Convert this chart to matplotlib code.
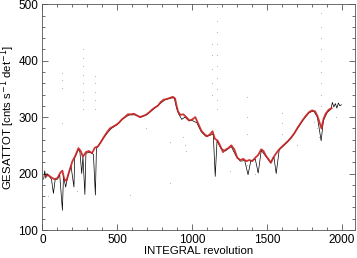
import numpy as np
import matplotlib
matplotlib.use("Agg")
from matplotlib import pyplot as plt
from matplotlib.ticker import MultipleLocator

plt.rcParams['font.family'] = ['Liberation Sans', 'DejaVu Sans']

# running mean (red)
rev_mean = [20, 40, 60, 80, 100, 120, 133, 145, 160, 180, 200, 220, 240, 255, 270, 290, 310, 330,
            350, 370, 390, 410, 430, 450, 470, 490, 510, 530, 550, 570, 590, 610, 630, 650, 670,
            690, 710, 730, 750, 770, 790, 810, 830, 850, 870, 885, 895, 905, 920, 940, 960, 980,
            1000, 1020, 1040, 1060, 1080, 1100, 1120, 1135, 1150, 1170, 1190, 1205, 1220, 1240,
            1260, 1280, 1300, 1320, 1340, 1360, 1380, 1400, 1420, 1440, 1460, 1475, 1490, 1510,
            1525, 1540, 1560, 1580, 1600, 1620, 1640, 1660, 1680, 1700, 1720, 1740, 1760, 1780,
            1800, 1820, 1835, 1850, 1862, 1875, 1890, 1910, 1930]
gesat_mean = [196, 197, 193, 190, 192, 202, 205, 190, 187, 205, 222, 232, 245, 240, 230, 238, 240, 236,
              246, 248, 256, 265, 273, 280, 283, 286, 290, 296, 300, 305, 305, 306, 303, 300, 302,
              304, 308, 313, 317, 320, 327, 331, 332, 334, 336, 333, 320, 310, 304, 305, 300, 294,
              296, 300, 288, 276, 270, 266, 270, 275, 262, 258, 247, 238, 242, 245,
              250, 243, 228, 224, 226, 222, 224, 222, 228, 233, 243, 240, 232, 225,
              219, 228, 236, 243, 248, 253, 258, 264, 271, 280, 288, 296, 303, 309,
              312, 310, 302, 290, 280, 296, 306, 313, 316]

# raw rates (black)
rev_raw = [8, 15, 22, 30, 45, 60, 73, 85, 100, 115, 133, 140, 155, 165, 190, 210, 215, 240, 250,
           262, 270, 283, 290, 320, 340, 353, 360, 380, 400, 430, 460, 500, 540, 580, 620, 660,
           700, 740, 780, 820, 860, 880, 895, 910, 930, 950, 975, 1000, 1030, 1060, 1090, 1120,
           1140, 1153, 1165, 1190, 1220, 1260, 1290, 1320, 1350, 1372, 1390, 1420, 1440, 1460,
           1490, 1520, 1545, 1560, 1580, 1620, 1660, 1700, 1740, 1780, 1810, 1835, 1860, 1875,
           1900, 1925, 1935, 1945, 1955, 1965, 1975, 1985, 1995]
gesat_raw = [190, 205, 192, 200, 195, 190, 165, 190, 190, 198, 135, 195, 176, 192, 214, 176, 228, 243, 238,
             200, 230, 163, 236, 238, 234, 162, 244, 252, 260, 271, 280, 287, 298, 304, 304, 300,
             305, 314, 323, 331, 334, 334, 316, 305, 296, 300, 294, 294, 290, 274, 266, 268,
             270, 195, 258, 245, 240, 248, 232, 222, 223, 198, 222, 226, 201, 241,
             231, 220, 229, 200, 242, 252, 263, 279, 295, 308, 311, 300, 258, 294,
             308, 314, 326, 318, 324, 316, 325, 320, 322]

# outlier points (grey)
rev_dots = [127, 127, 127, 127, 273, 273, 273, 273, 273, 273, 273, 273, 353, 353, 353, 353, 353,
            1133, 1133, 1133, 1133, 1133, 1165, 1165, 1165, 1165, 1165, 1165, 1165, 1165, 1165,
            1165, 1366, 1366, 1366, 1366, 1600, 1600, 1600, 1860, 1860, 1860, 1860, 1860, 1860,
            1860, 1860, 1860, 853, 853, 587, 935, 950, 960, 1430, 1420, 1810, 1830, 1845, 1960, 40,
            230, 690, 1250, 1700]
gesat_dots = [378, 365, 352, 290, 420, 405, 390, 375, 360, 345, 330, 315, 372, 360, 345, 330, 315,
              430, 410, 385, 360, 340, 495, 470, 450, 430, 410, 390, 370, 350, 330,
              315, 335, 300, 270, 215, 308, 290, 270, 484, 460, 440, 420, 400, 380,
              360, 340, 320, 256, 183, 162, 265, 250, 240, 205, 200, 292, 280, 265, 300, 160,
              170, 280, 205, 250]

fig = plt.figure(figsize=(3.57, 2.58), dpi=100)
ax = fig.add_axes([0.119, 0.1085, 0.875, 0.875])

ax.scatter(rev_dots, gesat_dots, s=0.6, c='#b0b0b0', linewidths=0, zorder=1)
ax.plot(rev_raw, gesat_raw, color='black', lw=0.5, zorder=2)
ax.plot(rev_mean, gesat_mean, color='#c81e1e', lw=1.3, alpha=0.9, zorder=3)

ax.set_xlim(0, 2085)
ax.set_ylim(100, 500)
ax.xaxis.set_major_locator(MultipleLocator(500))
ax.xaxis.set_minor_locator(MultipleLocator(100))
ax.yaxis.set_major_locator(MultipleLocator(100))
ax.yaxis.set_minor_locator(MultipleLocator(20))
ax.tick_params(which='both', direction='in', top=True, right=True, labelsize=8.5,
               color='#555555', width=0.6, pad=3)
ax.tick_params(which='major', length=4)
ax.tick_params(which='minor', length=2)
for s in ax.spines.values():
    s.set_linewidth(0.6)
    s.set_color('#555555')

ax.set_xlabel("INTEGRAL revolution", fontsize=8.2, labelpad=0)
ax.set_ylabel("GESATTOT [cnts s$^{-1}$ det$^{-1}$]", fontsize=8.2, labelpad=1)

fig.savefig("out.png", dpi=100)
